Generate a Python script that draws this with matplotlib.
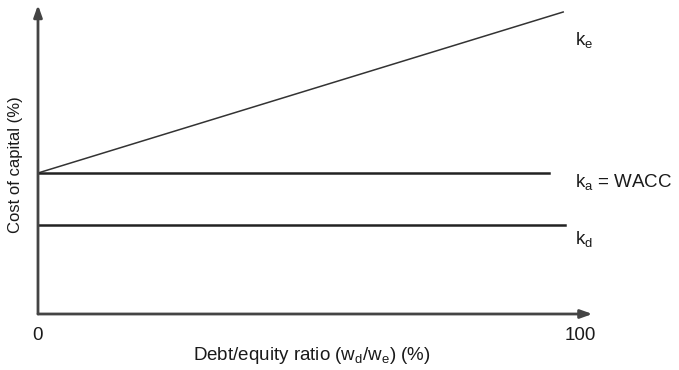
import matplotlib
matplotlib.use("Agg")
import matplotlib.pyplot as plt

plt.rcParams['font.family'] = ['Liberation Sans', 'DejaVu Sans']
plt.rcParams['mathtext.default'] = 'regular'

# Data (x: debt/equity ratio %, y: cost of capital, arbitrary units)
ke_x = [0, 96.9]
ke_y = [14.1, 30.2]
ka_x = [0, 94.3]
ka_y = [14.1, 14.1]
kd_x = [0, 97.2]
kd_y = [8.9, 8.9]
x_ticks = [0, 100]
x_tick_labels = ["0", "100"]
line_labels = ["k$_e$", "k$_a$ = WACC", "k$_d$"]
label_y = [27.4, 13.2, 7.5]

fig = plt.figure(figsize=(6.79, 3.70), dpi=100)
ax = fig.add_axes([0, 0, 1, 1])
ax.set_xlim(-7.01, 118.27)
ax.set_ylim(-5.6, 31.4)
ax.axis('off')

axis_color = '#444444'
txt_color = '#1a1a1a'
fs = 13.5
# axes with arrows
ax.annotate('', xy=(0, 30.9), xytext=(0, 0),
            arrowprops=dict(arrowstyle='-|>,head_length=0.7,head_width=0.25',
                            color=axis_color, lw=2, shrinkA=0, shrinkB=0))
ax.annotate('', xy=(102.3, 0), xytext=(0, 0),
            arrowprops=dict(arrowstyle='-|>,head_length=0.7,head_width=0.25',
                            color=axis_color, lw=2, shrinkA=0, shrinkB=0))

ax.plot(ke_x, ke_y, color='#333333', lw=1.1)
ax.plot(ka_x, ka_y, color='#222222', lw=1.8)
ax.plot(kd_x, kd_y, color='#222222', lw=1.8)

for t, lab in zip(x_ticks, x_tick_labels):
    ax.text(t, -2.1, lab, ha='center', va='center', fontsize=fs, color=txt_color)

for lab, y in zip(line_labels, label_y):
    ax.text(99.0, y, lab, ha='left', va='center', fontsize=fs, color=txt_color)

ax.text(50.6, -4.1, "Debt/equity ratio (w$_d$/w$_e$) (%)", ha='center', va='center',
        fontsize=fs, color=txt_color)
ax.text(-4.06, 14.9, "Cost of capital (%)", ha='center', va='center', rotation=90,
        fontsize=12, color=txt_color)

fig.savefig('out.png', dpi=100)
